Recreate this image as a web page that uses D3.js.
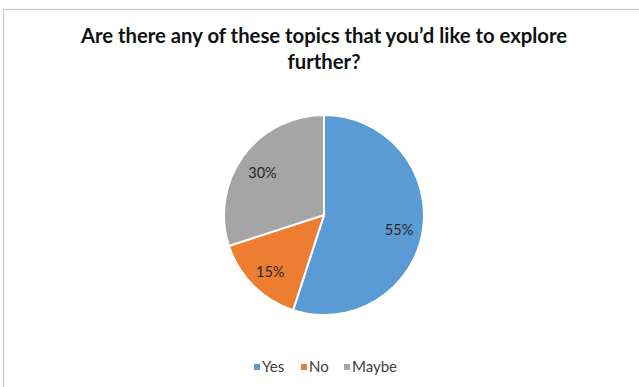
<!DOCTYPE html>
<html>
<head>
<meta charset="utf-8">
<script src="https://cdn.jsdelivr.net/npm/d3@7"></script>
<style>
  html, body { margin: 0; padding: 0; background: #fff; }
  svg { display: block; }
</style>
</head>
<body>
<svg id="chart" width="639" height="387"></svg>
<script>
// Survey answers and their shares
const categories = ["Yes", "No", "Maybe"];
const values = [55, 15, 30];
const colors = ["#5B9BD5", "#ED7D31", "#A5A5A5"];
const titleLines = ["Are there any of these topics that you\u2019d like to explore", "further?"];

const svg = d3.select("#chart");
const W = 639, H = 387;
const font = "Lato, 'Open Sans', sans-serif";

// chart frame
svg.append("rect")
  .attr("x", 3.5).attr("y", 9.5)
  .attr("width", W).attr("height", H)
  .attr("fill", "#fff")
  .attr("stroke", "#c8c8c8")
  .attr("stroke-width", 1.2);

// title
const title = svg.append("text")
  .attr("text-anchor", "middle")
  .attr("font-family", font)
  .attr("font-weight", 700)
  .attr("font-size", 20.3)
  .attr("fill", "#111");
titleLines.forEach((t, i) => {
  title.append("tspan").attr("x", 324).attr("y", 43 + i * 25.5).text(t);
});

// pie
const cx = 324, cy = 215, r = 100;
const pie = d3.pie().sort(null).value(d => d.value);
const arcs = pie(categories.map((c, i) => ({ name: c, value: values[i], color: colors[i] })));
const arc = d3.arc().innerRadius(0).outerRadius(r);
const labelArc = d3.arc().innerRadius(r * 0.76).outerRadius(r * 0.76);

const g = svg.append("g").attr("transform", `translate(${cx},${cy})`);
g.selectAll("path.slice")
  .data(arcs)
  .join("path")
  .attr("class", "slice")
  .attr("d", arc)
  .attr("fill", d => d.data.color)
  .attr("stroke", "#fff")
  .attr("stroke-width", 2);

g.selectAll("text.pct")
  .data(arcs)
  .join("text")
  .attr("class", "pct")
  .attr("transform", d => `translate(${labelArc.centroid(d)})`)
  .attr("text-anchor", "middle")
  .attr("dy", "0.55em")
  .attr("font-family", font)
  .attr("font-size", 14.5)
  .attr("fill", "#262626")
  .text(d => d.data.value + "%");

// legend
const legendX = [254, 301, 344];
const lg = svg.append("g");
categories.forEach((c, i) => {
  const item = lg.append("g").attr("transform", `translate(${legendX[i]},367)`);
  item.append("rect")
    .attr("x", 0).attr("y", -3).attr("width", 6).attr("height", 6)
    .attr("fill", colors[i]);
  item.append("text")
    .attr("x", 8).attr("y", 0).attr("dy", "0.35em")
    .attr("font-family", font)
    .attr("font-size", 15)
    .attr("fill", "#404040")
    .text(c);
});
</script>
</body>
</html>
